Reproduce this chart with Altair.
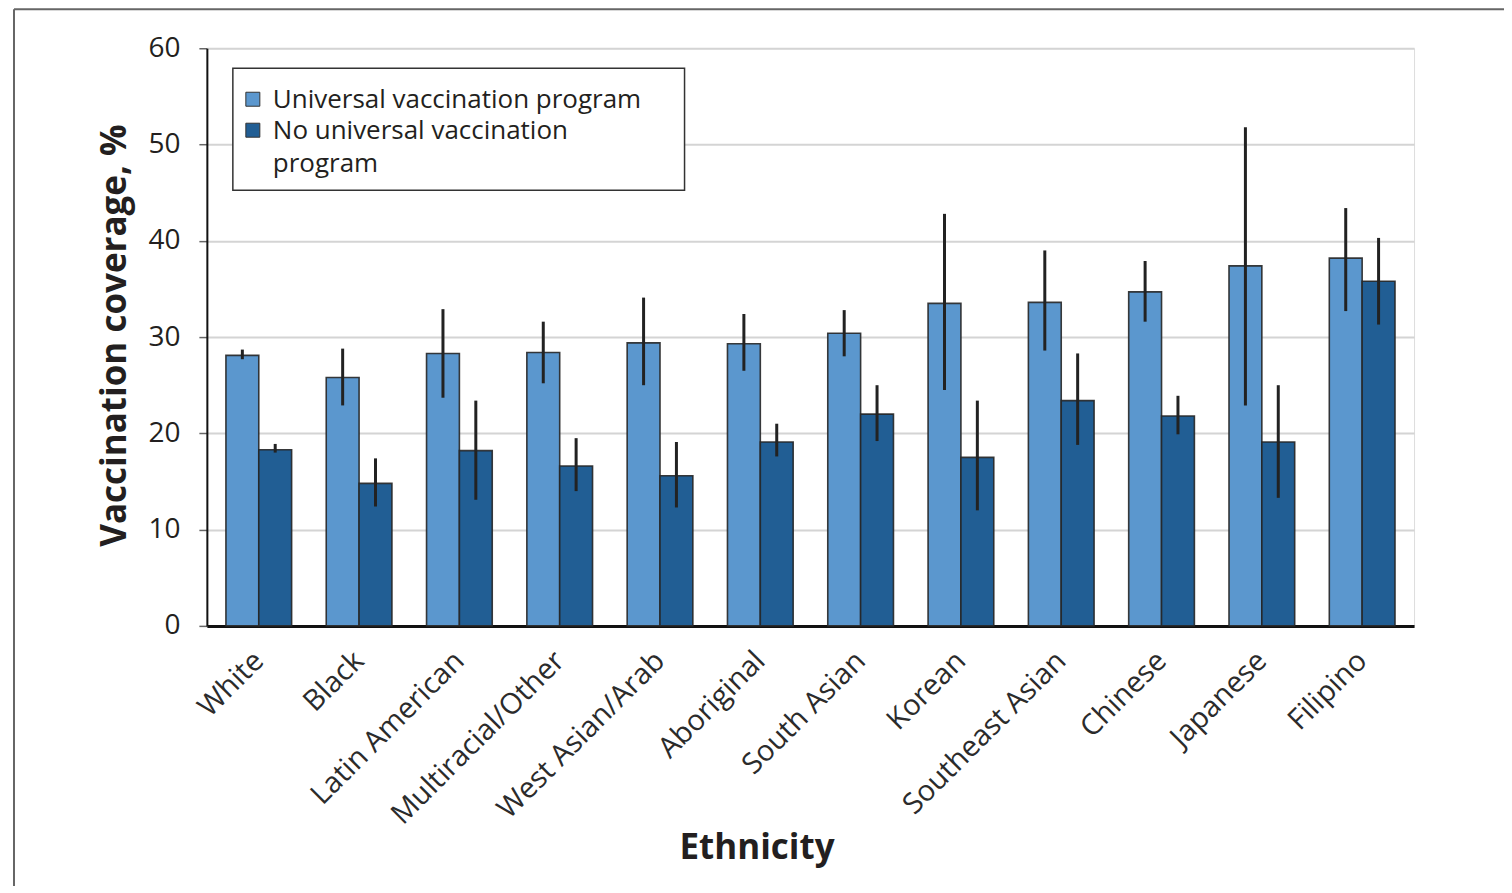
import textwrap
import altair as alt
import pandas as pd

cats = ["White", "Black", "Latin American", "Multiracial/Other", "West Asian/Arab",
        "Aboriginal", "South Asian", "Korean", "Southeast Asian", "Chinese",
        "Japanese", "Filipino"]
progs = ["Universal vaccination program", "No universal vaccination program"]

univ = [28.1, 25.8, 28.3, 28.4, 29.4, 29.3, 30.4, 33.5, 33.6, 34.7, 37.4, 38.2]
univ_lo = [27.7, 22.9, 23.7, 25.2, 25.0, 26.5, 28.0, 24.5, 28.6, 31.6, 22.9, 32.7]
univ_hi = [28.7, 28.8, 32.9, 31.6, 34.1, 32.4, 32.8, 42.8, 39.0, 37.9, 51.8, 43.4]

none = [18.3, 14.8, 18.2, 16.6, 15.6, 19.1, 22.0, 17.5, 23.4, 21.8, 19.1, 35.8]
none_lo = [18.0, 12.4, 13.1, 14.0, 12.3, 17.6, 19.2, 12.0, 18.8, 19.9, 13.3, 31.3]
none_hi = [18.9, 17.4, 23.4, 19.5, 19.1, 21.0, 25.0, 23.4, 28.3, 23.9, 25.0, 40.3]

colors = ["#5b97ce", "#215e94"]

rows = []
for i, c in enumerate(cats):
    rows.append({"eth": c, "prog": progs[0], "val": univ[i], "lo": univ_lo[i], "hi": univ_hi[i]})
    rows.append({"eth": c, "prog": progs[1], "val": none[i], "lo": none_lo[i], "hi": none_hi[i]})
df = pd.DataFrame(rows)

FONT = "Open Sans"
W, H = 1208, 578

xenc = alt.X("eth:N", sort=cats,
             scale=alt.Scale(paddingInner=0.345, paddingOuter=0.19),
             axis=alt.Axis(title="Ethnicity", labelAngle=-45, labelAlign="right",
                           labelBaseline="middle", labelPadding=30, labelFontSize=29,
                           labelLimit=1000, labelColor="#2b2b2b", ticks=False,
                           domainColor="#111", domainWidth=3,
                           titleFontSize=35, titleFontWeight="bold",
                           titleColor="#231f20", titleX=550, titleY=222,
                           titleBaseline="middle", labelFont=FONT, titleFont=FONT))
xoff = alt.XOffset("prog:N", sort=progs)

base = alt.Chart(df)

bars = base.mark_bar(stroke="#262626", strokeWidth=1.6, strokeOpacity=0.9).encode(
    x=xenc,
    xOffset=xoff,
    y=alt.Y("val:Q",
            scale=alt.Scale(domain=[0, 60], nice=False),
            axis=alt.Axis(title="Vaccination coverage, %", values=[0, 10, 20, 30, 40, 50, 60],
                          labelFontSize=28, labelColor="#231f20", labelPadding=19,
                          tickSize=8, tickColor="#666", tickWidth=1.5,
                          domainColor="#111", domainWidth=2,
                          grid=True, gridColor="#d4d4d4", gridWidth=2,
                          titleFontSize=35, titleFontWeight="bold", titleColor="#231f20",
                          titleX=-92, titleY=287, titleAlign="center", titleBaseline="middle",
                          labelFont=FONT, titleFont=FONT)),
    fill=alt.Fill("prog:N", sort=progs,
                  scale=alt.Scale(domain=progs, range=colors), legend=None),
)

errs = base.mark_rule(color="#222", strokeWidth=3).encode(
    x=alt.X("eth:N", sort=cats),
    xOffset=xoff,
    y="lo:Q",
    y2="hi:Q",
)

one = pd.DataFrame({"k": [0]})

# figure frame (left and top edges)
frame_left = alt.Chart(one).mark_rule(color="#666", strokeWidth=2).encode(
    x=alt.value(-193), y=alt.value(-39), y2=alt.value(H + 300))
frame_top = alt.Chart(one).mark_rule(color="#666", strokeWidth=2).encode(
    x=alt.value(-193), x2=alt.value(W + 300), y=alt.value(-39))

# legend box
leg_box = alt.Chart(one).mark_rect(fill="white", stroke="#333", strokeWidth=1.5).encode(
    x=alt.value(26), x2=alt.value(478), y=alt.value(20), y2=alt.value(142))
leg_layers = [leg_box]
sym_y = [51, 82]
for i, p in enumerate(progs):
    lines = textwrap.wrap(p, 30)
    leg_layers.append(
        alt.Chart(one).mark_rect(fill=colors[i], stroke="#333", strokeWidth=1).encode(
            x=alt.value(39), x2=alt.value(53),
            y=alt.value(sym_y[i] - 7), y2=alt.value(sym_y[i] + 7)))
    for j, ln in enumerate(lines):
        leg_layers.append(
            alt.Chart(one).mark_text(align="left", baseline="middle", fontSize=26, font=FONT,
                                     color="#231f20").encode(
                x=alt.value(66), y=alt.value(sym_y[i] + 1 + j * 33),
                text=alt.value(ln)))

chart = alt.layer(bars, errs, frame_left, frame_top, *leg_layers).properties(
    width=W, height=H,
    autosize=alt.AutoSizeParams(type="none"),
    padding={"left": 199, "top": 40, "right": 90, "bottom": 260},
).configure_view(
    fill="#f3f3f3", stroke="#555", strokeWidth=2
).configure(background="white")

chart.save("out.html", embed_options={"renderer": "svg", "actions": False})
